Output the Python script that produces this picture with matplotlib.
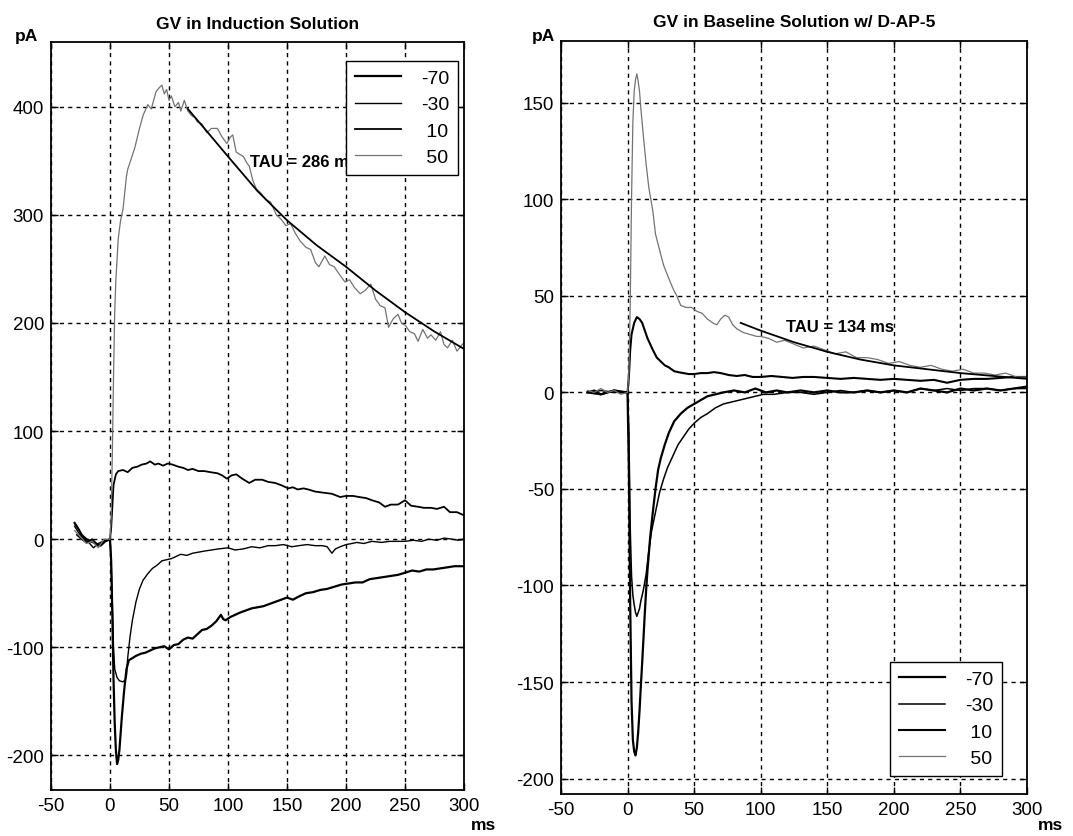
import matplotlib
matplotlib.use("Agg")
import matplotlib.pyplot as plt

plt.rcParams['axes.unicode_minus'] = False

# ---- data (time in ms, current in pA) ----
legend_labels = ['-70', '-30', ' 10', ' 50']

# left panel: GV in Induction Solution
L50_x = [-30, -25, -20, -15, -10, -5, 0, 1, 2, 3, 4, 5, 7, 9, 11, 14, 15, 18, 21, 25,
         28, 32, 35, 39, 42, 44, 46, 48, 50, 52, 55, 58, 60, 63, 66, 69, 72, 74, 78, 82,
         86, 91, 95, 99, 102, 104, 107, 110, 113, 116, 118, 121, 124, 128, 132, 136, 141, 145, 149, 153,
         157, 161, 166, 170, 174, 177, 180, 182, 186, 190, 195, 199, 203, 207, 212, 216, 221, 225, 229, 233,
         236, 240, 244, 247, 250, 254, 258, 261, 265, 269, 272, 276, 280, 283, 286, 290, 294, 297, 300]
L50_y = [8, 2, -4, -2, -8, 0, 0, 20, 80, 150, 210, 240, 278, 295, 305, 336, 342, 352, 362, 380,
         392, 402, 398, 414, 418, 420, 412, 416, 406, 410, 400, 404, 396, 406, 396, 392, 390, 386, 384, 376,
         380, 380, 372, 366, 372, 374, 358, 356, 354, 348, 345, 332, 324, 320, 314, 312, 300, 296, 290, 292,
         283, 276, 270, 268, 256, 252, 258, 262, 254, 252, 244, 238, 240, 233, 227, 230, 236, 222, 216, 214,
         196, 204, 208, 200, 198, 192, 190, 183, 194, 186, 189, 184, 192, 180, 177, 184, 174, 178, 182]

L10_x = [-28, -24, -20, -15, -10, -5, 0, 1, 2, 3, 5, 7, 11, 15, 19, 23, 27, 31, 34, 38,
         41, 45, 49, 53, 58, 62, 66, 70, 75, 80, 85, 91, 95, 99, 103, 107, 112, 118, 123, 129,
         134, 140, 145, 151, 155, 159, 164, 168, 174, 181, 188, 195, 200, 206, 211, 217, 222, 228, 233, 238,
         244, 250, 255, 261, 266, 272, 277, 283, 288, 294, 300]
L10_y = [4, 0, -3, 0, -6, -2, 0, 10, 30, 50, 60, 63, 64, 62, 66, 67, 69, 70, 72, 69,
         70, 68, 70, 69, 67, 66, 64, 65, 63, 63, 62, 61, 59, 56, 59, 60, 56, 52, 55, 55,
         53, 52, 50, 47, 48, 46, 47, 46, 44, 43, 42, 39, 40, 40, 39, 38, 36, 34, 30, 32,
         32, 36, 31, 30, 29, 29, 28, 30, 25, 25, 22]

Lm30_x = [-30, -26, -22, -18, -14, -10, -6, -2, 0, 1, 2, 3, 4, 6, 8, 11, 13, 14, 15, 17,
          19, 22, 25, 28, 32, 36, 40, 44, 48, 52, 56, 60, 65, 70, 75, 80, 86, 92, 100, 106,
          113, 120, 127, 134, 140, 147, 154, 160, 167, 174, 180, 184, 186, 188, 191, 195, 200, 205, 209, 215,
          222, 230, 237, 244, 250, 257, 264, 270, 277, 283, 290, 295, 300]
Lm30_y = [12, 5, 0, -3, -8, -4, -2, -1, 0, -20, -60, -100, -120, -128, -131, -132, -130, -126, -110, -90,
          -75, -58, -46, -38, -32, -27, -24, -20, -19, -18, -16, -14, -15, -13, -12, -11, -10, -9, -8, -10,
          -9, -7, -8, -6, -6, -5, -7, -6, -5, -6, -6, -7, -10, -13, -9, -7, -5, -4, -3, -4,
          -2, -3, -2, -2, -2, -1, -2, 0, -1, 1, 0, -1, 0]

Lm70_x = [-30, -27, -24, -20, -16, -12, -8, -4, 0, 1, 2, 3, 4, 5, 6, 7, 8, 9, 10, 12,
          14, 16, 19, 22, 26, 30, 34, 38, 42, 46, 50, 54, 58, 62, 66, 70, 74, 78, 82, 86,
          90, 94, 96, 98, 102, 106, 110, 115, 120, 125, 130, 135, 140, 145, 150, 155, 160, 166, 172, 178,
          184, 190, 196, 202, 208, 214, 220, 226, 232, 238, 244, 250, 256, 262, 268, 274, 280, 286, 292, 300]
Lm70_y = [15, 10, 4, 0, -2, -4, -6, -2, 0, -20, -70, -130, -170, -195, -208, -204, -195, -180, -165, -140,
          -120, -112, -110, -108, -106, -105, -103, -101, -100, -99, -102, -98, -97, -93, -91, -92, -88, -84, -83, -80,
          -76, -70, -74, -75, -72, -70, -68, -66, -64, -63, -62, -60, -58, -56, -54, -56, -53, -50, -49, -47,
          -46, -44, -42, -41, -40, -40, -37, -36, -35, -34, -33, -31, -29, -30, -28, -28, -27, -26, -25, -25]

Lfit_x = [66, 80, 100, 125, 150, 175, 200, 225, 250, 275, 300]
Lfit_y = [398, 380, 354, 322, 295, 272, 252, 230, 210, 192, 176]

# right panel: GV in Baseline Solution w/ D-AP-5
R50_x = [-30, -25, -20, -15, -10, -5, 0, 1, 2, 3, 4, 5, 6, 7, 8, 9, 10, 12, 14, 16,
         19, 21, 24, 27, 31, 34, 37, 40, 44, 48, 52, 56, 60, 64, 67, 70, 73, 76, 79, 82,
         87, 92, 97, 100, 106, 112, 118, 125, 132, 140, 148, 156, 164, 172, 180, 188, 196, 204, 212, 220,
         228, 236, 244, 252, 260, 268, 276, 284, 292, 300]
R50_y = [1, 0, 2, 0, 1, -1, 0, 10, 45, 100, 140, 156, 162, 165, 161, 156, 147, 132, 118, 106,
         94, 82, 74, 66, 59, 54, 50, 45, 44, 44, 42, 41, 38, 36, 35, 38, 40, 39, 35, 33,
         31, 30, 29, 29, 28, 26, 27, 25, 23, 24, 22, 20, 21, 18, 18, 17, 15, 16, 14, 13,
         14, 12, 11, 12, 10, 10, 9, 10, 8, 8]

R10_x = [-30, -25, -20, -15, -10, -5, 0, 1, 2, 3, 5, 7, 9, 11, 13, 15, 17, 19, 22, 25,
         28, 31, 35, 38, 42, 46, 50, 55, 60, 65, 70, 76, 82, 88, 94, 100, 108, 116, 124, 132,
         140, 150, 160, 170, 180, 190, 200, 210, 220, 230, 240, 250, 260, 270, 280, 290, 300]
R10_y = [0, 1, -1, 0, 1, 0, 0, 8, 22, 30, 36, 39, 38, 36, 32, 28, 25, 22, 18, 16,
         14, 13, 11, 10.5, 10, 9.5, 9.5, 10, 10, 10.5, 10, 9, 8.5, 9, 8, 8, 8.5, 8, 7.5, 8,
         8, 7.5, 7, 7.5, 7, 6.5, 7, 6.5, 6, 6.5, 5, 6.5, 7, 7, 7.5, 8, 8]

Rm30_x = [-30, -20, -10, 0, 1, 2, 3, 4, 5, 6, 7, 8, 9, 10, 12, 14, 16, 18, 21, 24,
          27, 30, 34, 38, 42, 46, 50, 55, 60, 66, 72, 78, 84, 90, 96, 102, 110, 120, 130, 140,
          150, 160, 170, 180, 190, 200, 210, 220, 230, 240, 250, 260, 270, 280, 290, 300]
Rm30_y = [0, 1, 0, 0, -20, -70, -95, -105, -110, -114, -116, -114, -112, -108, -102, -94, -82, -72, -62, -52,
          -45, -39, -33, -27, -23, -19, -16, -13, -11, -8, -6, -5, -4, -3, -2, -1, -1, 0, 0, -1,
          0, 1, 0, 1, 0, 1, 0, 2, 1, 2, 1, 2, 2, 1, 2, 2]

Rm70_x = [-30, -20, -10, 0, 1, 2, 3, 4, 5, 6, 7, 8, 9, 10, 11, 12, 13, 14, 15, 17,
          19, 21, 23, 25, 28, 31, 35, 40, 45, 50, 55, 60, 66, 72, 80, 88, 96, 104, 112, 120,
          130, 140, 150, 160, 170, 180, 190, 200, 210, 220, 230, 240, 250, 260, 270, 280, 290, 300]
Rm70_y = [0, -1, 1, 0, -40, -110, -160, -180, -186, -188, -184, -176, -165, -152, -140, -127, -114, -102, -92, -75,
          -62, -50, -40, -34, -27, -21, -15, -11, -8, -6, -4, -2, -1, 0, 1, 0, 2, 0, 1, 0,
          1, 0, 1, 0, 0, 1, 0, 1, 0, 2, 1, 0, 2, 1, 2, 1, 2, 3]

Rfit_x = [85, 100, 125, 150, 175, 200, 225, 250, 275, 300]
Rfit_y = [36, 32, 26, 21, 17, 14, 12, 10, 8.5, 7]

x_ticks = [-50, 0, 50, 100, 150, 200, 250, 300]
left_yticks = [-200, -100, 0, 100, 200, 300, 400]
right_yticks = [-200, -150, -100, -50, 0, 50, 100, 150]

# ---- plotting ----
plt.rcParams['font.family'] = ['Liberation Sans', 'DejaVu Sans']

fig = plt.figure(figsize=(10.73, 8.37), dpi=100)
fig.patch.set_facecolor('white')

ax1 = fig.add_axes([0.0475, 0.055, 0.385, 0.8937])
ax2 = fig.add_axes([0.5228, 0.0502, 0.4343, 0.8996])


def style_axes(ax, yticks, ylim):
    ax.set_xlim(-50, 300)
    ax.set_ylim(*ylim)
    ax.set_xticks(x_ticks)
    ax.set_yticks(yticks)
    ax.grid(True, color='black', linestyle=(0, (3, 3)), linewidth=1.0)
    ax.set_axisbelow(True)
    ax.tick_params(direction='in', length=5, width=1.0, top=True, right=True,
                   labelsize=13.5, pad=5)
    for sp in ax.spines.values():
        sp.set_linewidth(1.3)
        sp.set_color('black')


def add_legend(ax, loc, anchor):
    leg = ax.legend(loc=loc, bbox_to_anchor=anchor, fancybox=False,
                    edgecolor='black', framealpha=1, borderaxespad=0,
                    handlelength=2.4, handletextpad=1.0, fontsize=14,
                    labelspacing=0.45, borderpad=0.45)
    leg.get_frame().set_linewidth(1.0)
    leg.set_zorder(5)
    return leg


# left panel
ax1.plot(Lm70_x, Lm70_y, color='black', lw=1.6, label=legend_labels[0])
ax1.plot(Lm30_x, Lm30_y, color='black', lw=1.0, label=legend_labels[1])
ax1.plot(L10_x, L10_y, color='black', lw=1.3, label=legend_labels[2])
ax1.plot(L50_x, L50_y, color='0.45', lw=0.9, label=legend_labels[3])
ax1.plot(Lfit_x, Lfit_y, color='black', lw=1.3)
style_axes(ax1, left_yticks, (-232, 460))
ax1.text(119, 349, 'TAU = 286 ms', fontsize=12, fontweight='bold',
         va='center', ha='left', zorder=3)
add_legend(ax1, 'upper right', (0.985, 0.975))
ax1.set_title('GV in Induction Solution', fontsize=12.5, fontweight='bold', pad=10)

# right panel
ax2.plot(Rm70_x, Rm70_y, color='black', lw=1.6, label=legend_labels[0])
ax2.plot(Rm30_x, Rm30_y, color='black', lw=1.1, label=legend_labels[1])
ax2.plot(R10_x, R10_y, color='black', lw=1.5, label=legend_labels[2])
ax2.plot(R50_x, R50_y, color='0.45', lw=0.9, label=legend_labels[3])
ax2.plot(Rfit_x, Rfit_y, color='black', lw=1.3)
style_axes(ax2, right_yticks, (-208, 182))
ax2.text(119, 34, 'TAU = 134 ms', fontsize=12, fontweight='bold',
         va='center', ha='left', zorder=3)
add_legend(ax2, 'lower right', (0.946, 0.024))
ax2.set_title('GV in Baseline Solution w/ D-AP-5', fontsize=12.5, fontweight='bold', pad=11)

# unit labels
fig.text(15 / 1073, 1 - 37 / 837, 'pA', fontsize=12.5, fontweight='bold',
         ha='left', va='center')
fig.text(532 / 1073, 1 - 37 / 837, 'pA', fontsize=12.5, fontweight='bold',
         ha='left', va='center')
fig.text(471 / 1073, 1 - 826 / 837, 'ms', fontsize=12.5, fontweight='bold',
         ha='left', va='center')
fig.text(1038 / 1073, 1 - 826 / 837, 'ms', fontsize=12.5, fontweight='bold',
         ha='left', va='center')

fig.savefig('out.png', dpi=100)
